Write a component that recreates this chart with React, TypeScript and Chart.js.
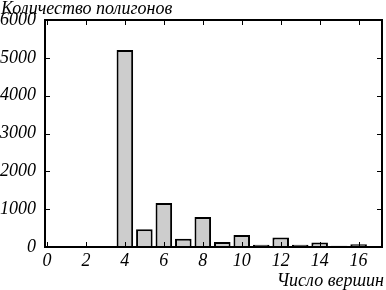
import React, { useEffect, useRef } from "react";
import { Chart, registerables } from "chart.js";

Chart.register(...registerables);

const vertexCounts = [4, 5, 6, 7, 8, 9, 10, 11, 12, 13, 14, 15, 16];
const polygonCounts = [5210, 470, 1160, 220, 790, 130, 320, 60, 250, 60, 120, 30, 70];
const xTicks = [0, 2, 4, 6, 8, 10, 12, 14, 16];
const yTicks = [0, 1000, 2000, 3000, 4000, 5000, 6000];
const yTitle = "Количество полигонов";
const xTitle = "Число вершин";

const FONT = "'Liberation Serif', 'DejaVu Serif', serif";

const framePlugin = {
  id: "frame",
  afterDraw(chart: any) {
    const { ctx, chartArea } = chart;
    const xs = chart.scales.x;
    const ys = chart.scales.y;
    const { left, right, top, bottom } = chartArea;
    ctx.save();
    ctx.strokeStyle = "#000";
    ctx.lineWidth = 2;
    ctx.strokeRect(left, top, right - left, bottom - top);
    ctx.lineWidth = 1;
    const tl = 5;
    ctx.beginPath();
    xTicks.forEach((v) => {
      const px = Math.round(xs.getPixelForValue(v)) + 0.5;
      ctx.moveTo(px, bottom);
      ctx.lineTo(px, bottom - tl);
      ctx.moveTo(px, top);
      ctx.lineTo(px, top + tl);
    });
    yTicks.forEach((v) => {
      const py = Math.round(ys.getPixelForValue(v)) + 0.5;
      ctx.moveTo(left, py);
      ctx.lineTo(left + tl, py);
      ctx.moveTo(right, py);
      ctx.lineTo(right - tl, py);
    });
    ctx.stroke();
    ctx.fillStyle = "#000";
    ctx.font = `italic 18px ${FONT}`;
    ctx.textAlign = "left";
    ctx.textBaseline = "alphabetic";
    ctx.fillText(yTitle, 1, 14);
    ctx.textAlign = "right";
    ctx.fillText(xTitle, 384, 286);
    ctx.restore();
  },
};

export default function App() {
  const ref = useRef<HTMLCanvasElement>(null);
  useEffect(() => {
    document.body.style.margin = "0";
    const chart = new Chart(ref.current as HTMLCanvasElement, {
      type: "bar",
      data: {
        datasets: [
          {
            data: vertexCounts.map((x, i) => ({ x, y: polygonCounts[i] })),
            backgroundColor: "#cdcdcd",
            borderColor: "#000",
            borderWidth: 2,
            barPercentage: 0.85,
            categoryPercentage: 1,
          },
        ],
      },
      options: {
        responsive: false,
        animation: false,
        layout: { padding: { top: 20, right: 4, left: 0, bottom: 0 } },
        plugins: { legend: { display: false }, tooltip: { enabled: false } },
        scales: {
          x: {
            type: "linear",
            offset: false,
            min: -0.1,
            max: 17.2,
            grid: { display: false, drawTicks: false, offset: false },
            border: { display: false },
            afterFit: (s: any) => {
              s.height = 43;
            },
            afterBuildTicks: (s: any) => {
              s.ticks = xTicks.map((v) => ({ value: v }));
            },
            ticks: {
              color: "#000",
              padding: 3,
              autoSkip: false,
              maxRotation: 0,
              callback: (v: any) => String(v),
              font: { family: FONT, style: "italic", size: 18 },
            },
          },
          y: {
            min: 0,
            max: 6000,
            grid: { display: false, drawTicks: false },
            border: { display: false },
            afterFit: (s: any) => {
              s.width = 45;
            },
            afterBuildTicks: (s: any) => {
              s.ticks = yTicks.map((v) => ({ value: v }));
            },
            ticks: {
              color: "#000",
              padding: 9,
              callback: (v: any) => String(v),
              font: { family: FONT, style: "italic", size: 18 },
            },
          },
        },
      },
      plugins: [framePlugin],
    });
    return () => chart.destroy();
  }, []);
  return (
    <div style={{ position: "absolute", left: 0, top: 0, width: 386, height: 290 }}>
      <canvas ref={ref} width={386} height={290} />
    </div>
  );
}
